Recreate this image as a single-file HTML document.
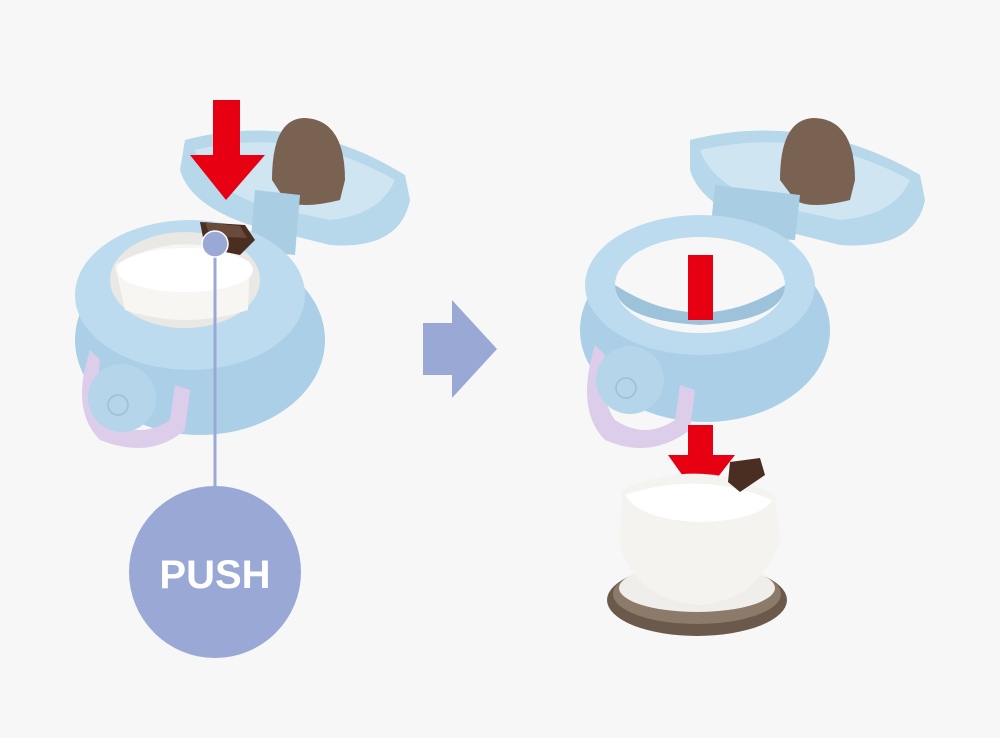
<!DOCTYPE html>
<html><head><meta charset="utf-8"><style>
html,body{margin:0;padding:0;background:#f7f7f7;}
svg{display:block;}
</style></head><body>
<svg width="1000" height="738" viewBox="0 0 1000 738" xmlns="http://www.w3.org/2000/svg">
<rect width="1000" height="738" fill="#f7f7f7"/>
<!-- LEFT -->
<!-- lid back -->
<path d="M185 140 Q300 110 405 175 L410 200 Q400 250 330 245 L250 225 Q190 205 180 170 Z" fill="#b7d7ea"/>
<path d="M195 150 Q300 125 395 180 Q380 215 330 220 L260 205 Q205 185 195 150 Z" fill="#cfe5f2"/>
<path d="M272 180 Q272 118 305 118 Q345 120 345 180 L340 200 Q300 210 285 200 Z" fill="#7a6252"/>
<!-- hinge -->
<path d="M255 190 L300 195 L295 255 L250 250 Z" fill="#a9cee4"/>
<!-- body -->
<ellipse cx="200" cy="340" rx="125" ry="95" fill="#aacfe6"/>
<ellipse cx="190" cy="295" rx="115" ry="75" fill="#bcdbee"/>
<ellipse cx="185" cy="280" rx="75" ry="48" fill="#e9e8e4"/>
<path d="M115 265 Q185 225 250 262 L248 310 Q185 330 125 310 Z" fill="#f7f6f3"/>
<ellipse cx="185" cy="270" rx="68" ry="22" fill="#ffffff"/>
<!-- brown button -->
<path d="M200 222 L245 225 L255 240 L240 255 L205 248 Z" fill="#4b2e22"/>
<path d="M205 222 L240 226 L247 238 L210 236 Z" fill="#6a4a3a"/>
<!-- handle -->
<path d="M90 350 Q70 410 100 440 Q150 460 185 430 L190 390 L175 385 L170 420 Q140 440 110 420 Q95 400 100 360 Z" fill="#dccdea"/>
<circle cx="122" cy="398" r="34" fill="#b4d5ea"/>
<circle cx="118" cy="405" r="10" fill="none" stroke="#9cc0d6" stroke-width="1.5"/>
<!-- red arrow -->
<path d="M213 100 L240 100 L240 155 L265 155 L226 200 L190 155 L213 155 Z" fill="#e60012"/>
<!-- push line -->
<line x1="215" y1="245" x2="215" y2="490" stroke="#9aa8d6" stroke-width="3"/>
<circle cx="215" cy="244" r="13" fill="#9aa8d6" stroke="#fff" stroke-width="1.5"/>
<circle cx="215" cy="572" r="86" fill="#9aa8d6"/>
<text x="215" y="588" text-anchor="middle" font-family="Liberation Sans, sans-serif" font-weight="bold" font-size="40" fill="#fff">PUSH</text>
<!-- middle arrow -->
<path d="M423 323 L452 323 L452 300 L497 349 L452 398 L452 375 L423 375 Z" fill="#9aa8d6"/>
<!-- RIGHT -->
<path d="M690 140 Q810 110 920 175 L925 200 Q915 250 840 245 L760 225 Q700 205 690 170 Z" fill="#b7d7ea"/>
<path d="M700 150 Q810 125 910 180 Q895 215 840 220 L770 205 Q712 185 700 150 Z" fill="#cfe5f2"/>
<path d="M780 180 Q780 118 815 118 Q855 120 855 180 L850 200 Q810 210 795 200 Z" fill="#7a6252"/>
<path d="M715 185 L800 195 L795 240 L710 235 Z" fill="#a9cee4"/>
<ellipse cx="705" cy="330" rx="125" ry="92" fill="#aacfe6"/>
<ellipse cx="700" cy="285" rx="115" ry="70" fill="#bcdbee"/>
<ellipse cx="700" cy="285" rx="85" ry="48" fill="#f7f7f7"/>
<path d="M615 285 Q700 340 785 285 Q785 320 700 325 Q615 320 615 285 Z" fill="#9cc3da"/>
<path d="M595 345 Q575 410 605 440 Q650 460 690 430 L695 390 L680 385 L675 420 Q645 440 615 420 Q600 400 605 355 Z" fill="#dccdea"/>
<circle cx="630" cy="380" r="34" fill="#b4d5ea"/>
<circle cx="626" cy="388" r="10" fill="none" stroke="#9cc0d6" stroke-width="1.5"/>
<!-- red arrow right -->
<rect x="688" y="255" width="25" height="65" fill="#e60012"/>
<path d="M688 425 L713 425 L713 455 L735 455 L700 500 L668 455 L688 455 Z" fill="#e60012"/>
<!-- removed cup -->
<ellipse cx="697" cy="600" rx="90" ry="36" fill="#6b5a4c"/>
<ellipse cx="697" cy="594" rx="84" ry="30" fill="#8c7a6a"/>
<ellipse cx="697" cy="588" rx="78" ry="24" fill="#efeeea"/>
<path d="M622 490 Q700 455 775 495 L780 540 Q760 600 700 605 Q635 600 620 545 Z" fill="#f4f3f0"/>
<path d="M625 495 Q700 470 772 500 Q760 520 700 522 Q640 520 625 495 Z" fill="#ffffff"/>
<path d="M730 462 L760 458 L765 475 L740 492 L728 482 Z" fill="#4b2e22"/>
</svg>
</body></html>
